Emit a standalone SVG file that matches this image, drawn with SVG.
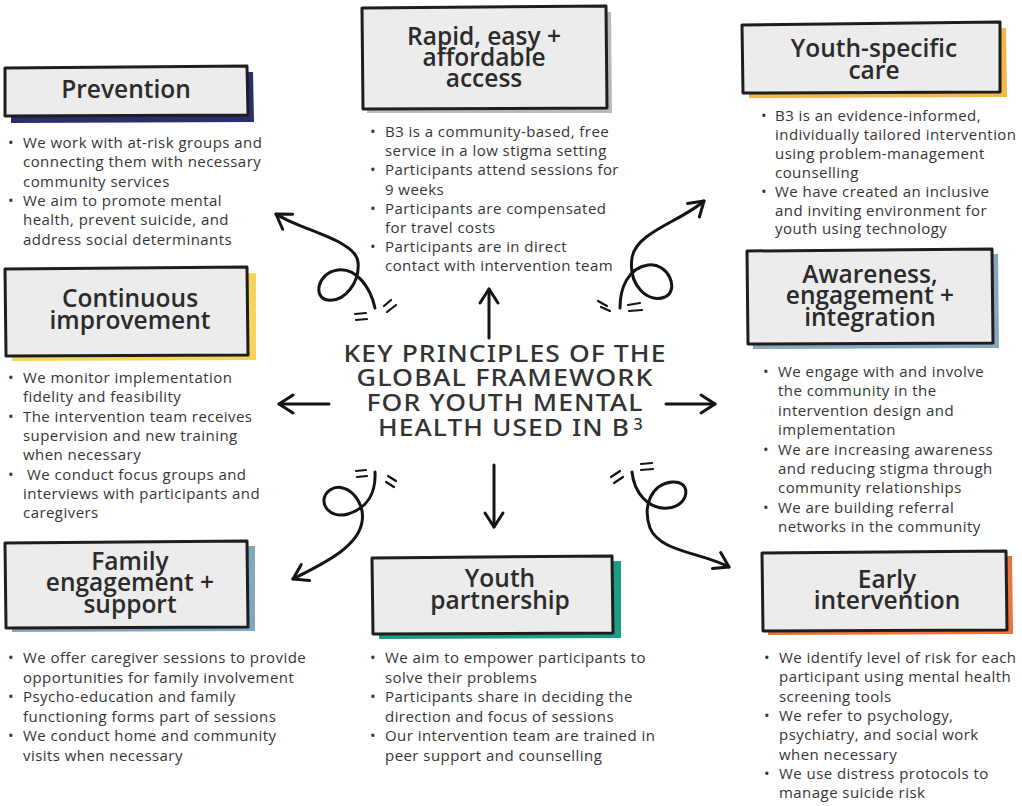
<svg xmlns="http://www.w3.org/2000/svg" width="1022" height="806" viewBox="0 0 1022 806">
<defs>
<style>
.box{fill:#ececec;stroke:#1e1e1e;stroke-width:3;stroke-linejoin:round}
.t{font-family:"Open Sans","Noto Sans",sans-serif;font-weight:600;font-size:24.5px;fill:#2b2b2b;text-anchor:middle}
.b{font-family:"Open Sans","Noto Sans",sans-serif;font-weight:500;font-size:15px;letter-spacing:0.45px;fill:#353535}
.c{font-family:"Noto Sans","Open Sans",sans-serif;font-weight:500;font-size:24px;fill:#333;text-anchor:middle;letter-spacing:1px}
.ln{fill:none;stroke:#141414;stroke-width:3;stroke-linecap:round;stroke-linejoin:round}
.mk{fill:none;stroke:#141414;stroke-width:2.2;stroke-linecap:round}
</style>
<marker id="ah" viewBox="0 0 24 24" refX="20" refY="12" markerWidth="24" markerHeight="24" markerUnits="userSpaceOnUse" orient="auto" overflow="visible">
<path d="M6,3 L20,12 L6,21" fill="none" stroke="#141414" stroke-width="3" stroke-linecap="round" stroke-linejoin="round"/>
</marker>
</defs>
<rect width="1022" height="806" fill="#ffffff"/>

<g id="connectors">
<path class="ln" d="M489,338 L489,289" marker-end="url(#ah)"/>
<path class="ln" d="M329,404 L279,404" marker-end="url(#ah)"/>
<path class="ln" d="M666,404 L715,404" marker-end="url(#ah)"/>
<path class="ln" d="M494,465 L494,527" marker-end="url(#ah)"/>
<path class="ln" d="M375,308 C370,285 355,268 338,270 C318,272 312,298 328,300 C345,302 360,282 358,262 C356,240 300,230 276,214" marker-end="url(#ah)"/>
<path class="ln" d="M620,308 C620,288 628,268 648,265 C668,262 680,290 665,297 C648,304 628,285 632,258 C636,232 680,222 704,201" marker-end="url(#ah)"/>
<path class="ln" d="M375,472 C376,492 368,508 348,514 C328,520 316,500 330,490 C345,480 366,500 362,522 C358,548 320,565 293,579" marker-end="url(#ah)"/>
<path class="ln" d="M632,472 C634,492 648,510 668,508 C690,506 692,480 672,482 C652,484 642,505 650,528 C660,552 700,552 729,567" marker-end="url(#ah)"/>
<path class="mk" d="M355,314 L366,313 M356,320 L367,319 M384,306 L391,300 M387,312 L396,305"/>
<path class="mk" d="M598,301 L607,306 M601,307 L610,311 M628,305 L640,303 M629,311 L642,310"/>
<path class="mk" d="M356,471 L366,470 M357,477 L367,476 M388,476 L396,481 M386,482 L394,487"/>
<path class="mk" d="M641,464 L652,463 M641,470 L653,469 M611,477 L620,471 M614,483 L623,477"/>
</g>

<g id="center-title">
<text class="c" x="505" y="362" textLength="323" lengthAdjust="spacingAndGlyphs">KEY PRINCIPLES OF THE</text>
<text class="c" x="505" y="386" textLength="297" lengthAdjust="spacingAndGlyphs">GLOBAL FRAMEWORK</text>
<text class="c" x="505" y="411" textLength="277" lengthAdjust="spacingAndGlyphs">FOR YOUTH MENTAL</text>
<text class="c" x="504" y="436" textLength="252" lengthAdjust="spacingAndGlyphs">HEALTH USED IN B</text>
<text class="c" x="638" y="430" style="font-size:16px;letter-spacing:0">3</text>
</g>

<g id="prevention">
<path d="M11,74 L253,72 L254,122 L11,123 Z" fill="#2a2e6e"/>
<path class="box" d="M5,68 L247,66 L248,115 L5,116 Z"/>
<text class="t" x="126" y="98">Prevention</text>
<text class="b"><tspan x="8" y="148">•</tspan><tspan x="23" y="148">We work with at-risk groups and</tspan><tspan x="23" y="167.3">connecting them with necessary</tspan><tspan x="23" y="186.6">community services</tspan><tspan x="8" y="205.9">•</tspan><tspan x="23" y="205.9">We aim to promote mental</tspan><tspan x="23" y="225.2">health, prevent suicide, and</tspan><tspan x="23" y="244.5">address social determinants</tspan></text>
</g>

<g id="rapid-access">
<path d="M367,13 L611,12 L612,113 L367,113 Z" fill="#b9b9b9"/>
<path class="box" d="M362,8 L606,6 L607,108 L363,109 Z"/>
<text class="t"><tspan x="484" y="45">Rapid, easy +</tspan><tspan x="484" y="65.5">affordable</tspan><tspan x="484" y="86.5">access</tspan></text>
<text class="b"><tspan x="370" y="137">•</tspan><tspan x="385" y="137">B3 is a community-based, free</tspan><tspan x="385" y="156.2">service in a low stigma setting</tspan><tspan x="370" y="175.4">•</tspan><tspan x="385" y="175.4">Participants attend sessions for</tspan><tspan x="385" y="194.6">9 weeks</tspan><tspan x="370" y="213.8">•</tspan><tspan x="385" y="213.8">Participants are compensated</tspan><tspan x="385" y="233">for travel costs</tspan><tspan x="370" y="252.2">•</tspan><tspan x="385" y="252.2">Participants are in direct</tspan><tspan x="385" y="271.4">contact with intervention team</tspan></text>
</g>

<g id="youth-specific-care">
<path d="M749,30 L1006,28 L1007,97 L749,98 Z" fill="#f3b648"/>
<path class="box" d="M742,25 L1000,22 L1000,92 L743,93 Z"/>
<text class="t"><tspan x="874" y="57">Youth-specific</tspan><tspan x="874" y="78.5">care</tspan></text>
<text class="b"><tspan x="761" y="121">•</tspan><tspan x="775" y="121">B3 is an evidence-informed,</tspan><tspan x="775" y="139.9">individually tailored intervention</tspan><tspan x="775" y="158.8">using problem-management</tspan><tspan x="775" y="177.7">counselling</tspan><tspan x="761" y="196.6">•</tspan><tspan x="775" y="196.6">We have created an inclusive</tspan><tspan x="775" y="215.5">and inviting environment for</tspan><tspan x="775" y="234.4">youth using technology</tspan></text>
</g>

<g id="continuous-improvement">
<path d="M12,275 L256,273 L256,360 L12,361 Z" fill="#f6d35b"/>
<path class="box" d="M5,269 L247,267 L248,355 L6,356 Z"/>
<text class="t"><tspan x="130" y="307">Continuous</tspan><tspan x="130" y="328.5">improvement</tspan></text>
<text class="b"><tspan x="8" y="383">•</tspan><tspan x="23" y="383">We monitor implementation</tspan><tspan x="23" y="402.3">fidelity and feasibility</tspan><tspan x="8" y="421.6">•</tspan><tspan x="23" y="421.6">The intervention team receives</tspan><tspan x="23" y="440.9">supervision and new training</tspan><tspan x="23" y="460.2">when necessary</tspan><tspan x="8" y="479.5">•</tspan><tspan x="27" y="479.5">We conduct focus groups and</tspan><tspan x="23" y="498.8">interviews with participants and</tspan><tspan x="23" y="518.1">caregivers</tspan></text>
</g>

<g id="awareness-engagement-integration">
<path d="M753,256 L998,254 L999,348 L753,349 Z" fill="#86a8bd"/>
<path class="box" d="M747,251 L992,249 L993,343 L748,344 Z"/>
<text class="t"><tspan x="870" y="283">Awareness,</tspan><tspan x="870" y="304">engagement +</tspan><tspan x="870" y="325.5">integration</tspan></text>
<text class="b"><tspan x="763" y="377">•</tspan><tspan x="778" y="377">We engage with and involve</tspan><tspan x="778" y="396.4">the community in the</tspan><tspan x="778" y="415.8">intervention design and</tspan><tspan x="778" y="435.2">implementation</tspan><tspan x="763" y="454.6">•</tspan><tspan x="778" y="454.6">We are increasing awareness</tspan><tspan x="778" y="474">and reducing stigma through</tspan><tspan x="778" y="493.4">community relationships</tspan><tspan x="763" y="512.8">•</tspan><tspan x="778" y="512.8">We are building referral</tspan><tspan x="778" y="532.2">networks in the community</tspan></text>
</g>

<g id="family-engagement-support">
<path d="M12,548 L255,546 L255,631 L12,632 Z" fill="#82a8bf"/>
<path class="box" d="M5,543 L247,541 L248,627 L6,628 Z"/>
<text class="t"><tspan x="130" y="570">Family</tspan><tspan x="130" y="591">engagement +</tspan><tspan x="130" y="612.5">support</tspan></text>
<text class="b"><tspan x="8" y="663">•</tspan><tspan x="23" y="663">We offer caregiver sessions to provide</tspan><tspan x="23" y="682.5">opportunities for family involvement</tspan><tspan x="8" y="702">•</tspan><tspan x="23" y="702">Psycho-education and family</tspan><tspan x="23" y="721.5">functioning forms part of sessions</tspan><tspan x="8" y="741">•</tspan><tspan x="23" y="741">We conduct home and community</tspan><tspan x="23" y="760.5">visits when necessary</tspan></text>
</g>

<g id="youth-partnership">
<path d="M379,563 L621,561 L621,638 L379,639 Z" fill="#1d9e83"/>
<path class="box" d="M372,558 L612,556 L613,633 L373,634 Z"/>
<text class="t"><tspan x="500" y="587">Youth</tspan><tspan x="500" y="608.5">partnership</tspan></text>
<text class="b"><tspan x="370" y="663">•</tspan><tspan x="385" y="663">We aim to empower participants to</tspan><tspan x="385" y="682.6">solve their problems</tspan><tspan x="370" y="702.2">•</tspan><tspan x="385" y="702.2">Participants share in deciding the</tspan><tspan x="385" y="721.8">direction and focus of sessions</tspan><tspan x="370" y="741.4">•</tspan><tspan x="385" y="741.4">Our intervention team are trained in</tspan><tspan x="385" y="761">peer support and counselling</tspan></text>
</g>

<g id="early-intervention">
<path d="M768,558 L1012,556 L1013,634 L768,635 Z" fill="#e9743c"/>
<path class="box" d="M762,553 L1006,551 L1007,630 L763,631 Z"/>
<text class="t"><tspan x="887" y="588">Early</tspan><tspan x="887" y="608.5">intervention</tspan></text>
<text class="b"><tspan x="764" y="663">•</tspan><tspan x="779" y="663">We identify level of risk for each</tspan><tspan x="779" y="682.3">participant using mental health</tspan><tspan x="779" y="701.6">screening tools</tspan><tspan x="764" y="720.9">•</tspan><tspan x="779" y="720.9">We refer to psychology,</tspan><tspan x="779" y="740.2">psychiatry, and social work</tspan><tspan x="779" y="759.5">when necessary</tspan><tspan x="764" y="778.8">•</tspan><tspan x="779" y="778.8">We use distress protocols to</tspan><tspan x="779" y="798.1">manage suicide risk</tspan></text>
</g>
</svg>
